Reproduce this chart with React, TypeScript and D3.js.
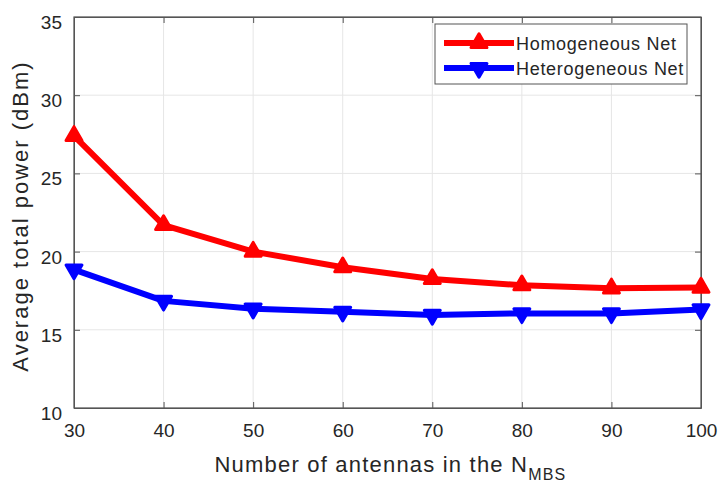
import React, { useEffect, useRef } from 'react';
import * as d3 from 'd3';

const antennas = [30, 40, 50, 60, 70, 80, 90, 100];
const homogeneous = [27.4, 21.7, 20.0, 19.0, 18.25, 17.85, 17.65, 17.7];
const heterogeneous = [18.85, 16.85, 16.35, 16.15, 15.95, 16.05, 16.05, 16.3];
const yTicks = [10, 15, 20, 25, 30, 35];
const seriesNames = ['Homogeneous Net', 'Heterogeneous Net'];

const App = () => {
  const ref = useRef<SVGSVGElement>(null);

  useEffect(() => {
    const svg = d3.select(ref.current);
    svg.selectAll('*').remove();

    const margin = { top: 17, right: 17, bottom: 78, left: 74 };
    const width = 718 - margin.left - margin.right;
    const height = 486 - margin.top - margin.bottom;
    const font = 'Arial, "Liberation Sans", sans-serif';
    const axisColor = '#262626';

    const x = d3.scaleLinear().domain([30, 100]).range([0, width]);
    const y = d3.scaleLinear().domain([10, 35]).range([height, 0]);

    const g = svg.append('g')
      .attr('transform', 'translate(' + margin.left + ',' + margin.top + ')');

    // grid
    g.selectAll('.vgrid').data(antennas).enter().append('line')
      .attr('x1', d => x(d)).attr('x2', d => x(d))
      .attr('y1', 0).attr('y2', height)
      .style('stroke', '#e6e6e6').style('stroke-width', 1);
    g.selectAll('.hgrid').data(yTicks).enter().append('line')
      .attr('x1', 0).attr('x2', width)
      .attr('y1', d => y(d)).attr('y2', d => y(d))
      .style('stroke', '#e6e6e6').style('stroke-width', 1);

    // box
    g.append('rect')
      .attr('width', width).attr('height', height)
      .style('fill', 'none').style('stroke', '#555').style('stroke-width', 1.2);

    // axes
    const xAxis = d3.axisBottom(x).tickValues(antennas).tickSizeInner(-6).tickSizeOuter(0).tickPadding(16);
    const xg = g.append('g').attr('transform', 'translate(0,' + height + ')');
    xAxis(xg);
    const yAxis = d3.axisLeft(y).tickValues(yTicks).tickSizeInner(-6).tickSizeOuter(0).tickPadding(12);
    const yg = g.append('g');
    yAxis(yg);
    const xTop = d3.axisTop(x).tickValues(antennas).tickSizeInner(-6).tickSizeOuter(0).tickFormat(() => '');
    const xtg = g.append('g');
    xTop(xtg);
    const yRight = d3.axisRight(y).tickValues(yTicks).tickSizeInner(-6).tickSizeOuter(0).tickFormat(() => '');
    const yrg = g.append('g').attr('transform', 'translate(' + width + ',0)');
    yRight(yrg);

    [xg, yg, xtg, yrg].forEach(a => {
      a.selectAll('path').style('stroke', '#555');
      a.selectAll('line').style('stroke', '#555');
      a.selectAll('text').style('fill', axisColor).style('font-family', font).style('font-size', '19px');
    });
    yg.selectAll('text').attr('dy', '0.6em');

    // axis labels
    const xl = g.append('text')
      .attr('x', width / 2 + 3).attr('y', height + 64)
      .attr('text-anchor', 'middle')
      .style('font-family', font).style('font-size', '22px').style('fill', axisColor)
      .style('letter-spacing', '1.2px');
    xl.append('tspan').text('Number of antennas in the N');
    xl.append('tspan').attr('dy', 8).style('font-size', '16px').text('MBS');

    g.append('text')
      .attr('transform', 'translate(' + (-46) + ',' + (216 - margin.top) + ') rotate(-90)')
      .attr('text-anchor', 'middle')
      .style('font-family', font).style('font-size', '22px').style('fill', axisColor)
      .style('letter-spacing', '2px')
      .text('Average total power (dBm)');

    const series = [
      { values: homogeneous, color: '#ff0000', up: true },
      { values: heterogeneous, color: '#0000ff', up: false },
    ];

    const line = d3.line<number>().x((d, i) => x(antennas[i])).y(d => y(d));
    const tri = (up: boolean) => d3.symbol().type(d3.symbolTriangle).size(110)();

    series.forEach(s => {
      g.append('path')
        .datum(s.values)
        .attr('d', line)
        .style('fill', 'none').style('stroke', s.color).style('stroke-width', 6)
        .style('stroke-linejoin', 'round');
      g.selectAll(null).data(s.values).enter().append('path')
        .attr('d', tri(s.up))
        .attr('transform', (d, i) => 'translate(' + x(antennas[i]) + ',' + y(d) + ')' + (s.up ? '' : ' rotate(180)'))
        .style('fill', s.color).style('stroke', s.color).style('stroke-width', 3)
        .style('stroke-linejoin', 'round');
    });

    // legend
    const lg = g.append('g').attr('transform', 'translate(' + (435 - margin.left) + ',' + (24 - margin.top) + ')');
    lg.append('rect').attr('width', 252).attr('height', 60)
      .style('fill', '#fff').style('stroke', '#555').style('stroke-width', 1);
    series.forEach((s, i) => {
      const ly = 19 + i * 25;
      lg.append('line').attr('x1', 9).attr('x2', 79).attr('y1', ly).attr('y2', ly)
        .style('stroke', s.color).style('stroke-width', 6);
      lg.append('path').attr('d', tri(s.up))
        .attr('transform', 'translate(44,' + ly + ')' + (s.up ? '' : ' rotate(180)'))
        .style('fill', s.color).style('stroke', s.color).style('stroke-width', 3)
        .style('stroke-linejoin', 'round');
      lg.append('text').attr('x', 81).attr('y', ly + 7)
        .style('font-family', font).style('font-size', '18px').style('fill', axisColor)
        .style('letter-spacing', '0.7px')
        .text(seriesNames[i]);
    });
  }, []);

  return (
    <svg ref={ref} width={718} height={486} style={{ position: 'absolute', left: 0, top: 0, background: '#fff' }} />
  );
};

export default App;
